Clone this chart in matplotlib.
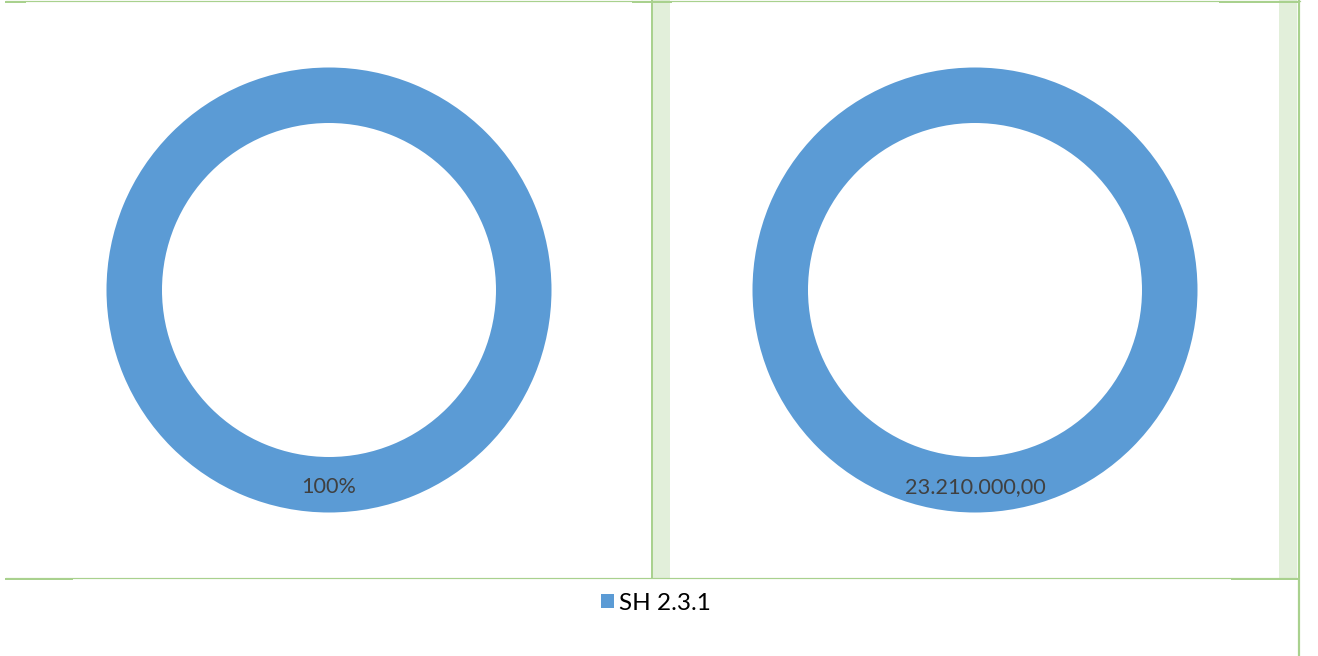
import matplotlib
matplotlib.use("Agg")
import matplotlib.pyplot as plt
from matplotlib.patches import Patch, Rectangle
from matplotlib.lines import Line2D

# Data
categories = ["SH 2.3.1"]
values = [23210000.00]

ring_color = "#5B9BD5"
line_color = "#A9D18E"
band_color = "#E2EFDA"
text_color = "#404040"

plt.rcParams["font.family"] = ["Lato", "DejaVu Sans"]

W, H = 1318, 656
fig = plt.figure(figsize=(W / 100, H / 100), dpi=100)


def fx(px):
    return px / W


def fy(py):
    return 1 - py / H


def idr(v):
    s = f"{v:,.2f}"
    return s.replace(",", "X").replace(".", ",").replace("X", ".")


total = sum(values)
r_out, r_in = 222.5, 167
centers = [(329, 290), (975, 290)]
labels = [f"{values[0] / total * 100:.0f}%", idr(values[0])]

for (cx, cy), lab in zip(centers, labels):
    ax = fig.add_axes([fx(cx - r_out), fy(cy + r_out), (2 * r_out) / W, (2 * r_out) / H])
    ax.pie(values, colors=[ring_color], startangle=90, counterclock=False,
           radius=1, wedgeprops=dict(width=1 - r_in / r_out, edgecolor="none"))
    ax.set_xlim(-1, 1)
    ax.set_ylim(-1, 1)
    ax.set_aspect("auto")
    ax.axis("off")
    ax.text(0, -197 / r_out, lab, ha="center", va="center", fontsize=15.6, color=text_color)

# frame decoration (spreadsheet cell borders)
fig.add_artist(Rectangle((fx(653), fy(578)), fx(670) - fx(653), fy(0) - fy(578),
                         transform=fig.transFigure, color=band_color, lw=0, zorder=0))
fig.add_artist(Rectangle((fx(1279), fy(578)), fx(1297) - fx(1279), fy(0) - fy(578),
                         transform=fig.transFigure, color=band_color, lw=0, zorder=0))
segs = [
    ((6, 1300), (1, 1), 1.2),
    ((6, 25), (1.5, 1.5), 2),
    ((633, 671), (1.5, 1.5), 2),
    ((1220, 1299), (1.5, 1.5), 2),
    ((6, 1298), (578, 578), 1.2),
    ((6, 72), (578.5, 578.5), 2),
    ((1232, 1298), (578.5, 578.5), 2),
    ((651.5, 651.5), (0, 578), 2),
    ((1298.5, 1298.5), (0, 656), 2.2),
]
for xs, ys, lw in segs:
    fig.add_artist(Line2D([fx(x) for x in xs], [fy(y) for y in ys],
                          transform=fig.transFigure, color=line_color, lw=lw * 0.72))

handles = [Patch(facecolor=ring_color, edgecolor="none")]
fig.legend(handles, categories, loc="center", bbox_to_anchor=(fx(656), fy(603)),
           frameon=False, fontsize=17.5, handlelength=0.53, handleheight=0.53,
           handletextpad=0.22, labelcolor="#000000")

fig.savefig("out.png", dpi=100)
